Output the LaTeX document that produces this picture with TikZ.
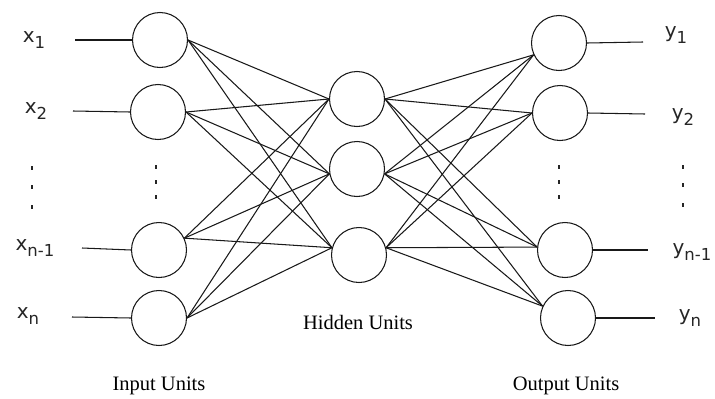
\documentclass[tikz,border=0pt]{standalone}
\usepackage{fontspec}
\setmainfont{Liberation Serif}
\newfontfamily\lblfont{DejaVu Sans}
\begin{document}
\begin{tikzpicture}[x=1pt,y=-1pt,
  unit/.style={circle,draw=black!90,line width=1.05pt,minimum size=55pt,inner sep=0pt},
  conn/.style={draw=black!90,line width=1.05pt},
  lbl/.style={inner sep=0pt,text=black!85,font=\lblfont\fontsize{20}{20}\selectfont},
  captext/.style={inner sep=0pt,font=\fontsize{20.5}{20.5}\selectfont},
  dotmark/.style={fill=black!85}]
\useasboundingbox[fill=white] (0,0) rectangle (715,399);
\newcommand{\sbs}[1]{\raisebox{-5.5pt}{\fontsize{16.5}{16.5}\selectfont #1}}
% units
\node[unit] (i1) at (160,40) {};
\node[unit] (i2) at (158,112) {};
\node[unit] (i3) at (159,250) {};
\node[unit] (i4) at (159,318) {};
\node[unit] (h1) at (357,99) {};
\node[unit] (h2) at (357,169) {};
\node[unit] (h3) at (359,255) {};
\node[unit] (o1) at (559,43) {};
\node[unit] (o2) at (560,113) {};
\node[unit] (o3) at (565,250) {};
\node[unit] (o4) at (568,318) {};
% labels
\node[lbl] (lx1) at (34,40) {x\sbs{1}};
\node[lbl] (lx2) at (36,111) {x\sbs{2}};
\node[lbl] (lx3) at (35,248) {x\sbs{n-1}};
\node[lbl] (lx4) at (28,316) {x\sbs{n}};
\node[lbl] (ly1) at (676,35) {y\sbs{1}};
\node[lbl] (ly2) at (683,117) {y\sbs{2}};
\node[lbl] (ly3) at (692,252) {y\sbs{n-1}};
\node[lbl] (ly4) at (690,318) {y\sbs{n}};
\node[captext] (cin) at (159,386) {Input Units};
\node[captext] (chid) at (358,322) {Hidden Units};
\node[captext] (cout) at (566,386) {Output Units};
% input and output lines
\coordinate (ax1) at (75,40);
\coordinate (ax2) at (73,111);
\coordinate (ax3) at (82,248);
\coordinate (ax4) at (72,317);
\coordinate (ay1) at (643,42);
\coordinate (ay2) at (645,114);
\coordinate (ay3) at (648,250);
\coordinate (ay4) at (655,318);
\draw[conn] (ax1) -- (i1.west);
\draw[conn] (ax2) -- (i2.west);
\draw[conn] (ax3) -- (i3.west);
\draw[conn] (ax4) -- (i4.west);
\draw[conn] (o1.east) -- (ay1);
\draw[conn] (o2.east) -- (ay2);
\draw[conn] (o3.east) -- (ay3);
\draw[conn] (o4.east) -- (ay4);
% connection points
\coordinate (s1) at (i1.east);
\coordinate (s2) at (i2.east);
\coordinate (s3) at (i3.25);
\coordinate (s4) at (i4.east);
\coordinate (hl1) at (h1.west);
\coordinate (hl2) at (h2.190);
\coordinate (hl3) at (h3.165);
\coordinate (hr1) at (h1.east);
\coordinate (hr2) at (h2.350);
\coordinate (hr3) at (h3.15);
\coordinate (t1) at (o1.205);
\coordinate (t2) at (o2.west);
\coordinate (t3) at (o3.174);
\coordinate (t4) at (o4.155);
\foreach \a in {1,2,3,4}{
  \foreach \b in {1,2,3}{
    \draw[conn] (s\a) -- (hl\b);
    \draw[conn] (hr\b) -- (t\a);
  }
}
% dots
\foreach \px/\py in {32/168,32/187,32/207,156/167,156/182,156/197,559/167,559/182,559/197,683/167,683/185,683/205}{
  \fill[dotmark] (\px-1.1,\py-2) rectangle (\px+1.1,\py+2);
}
\end{tikzpicture}
\end{document}
